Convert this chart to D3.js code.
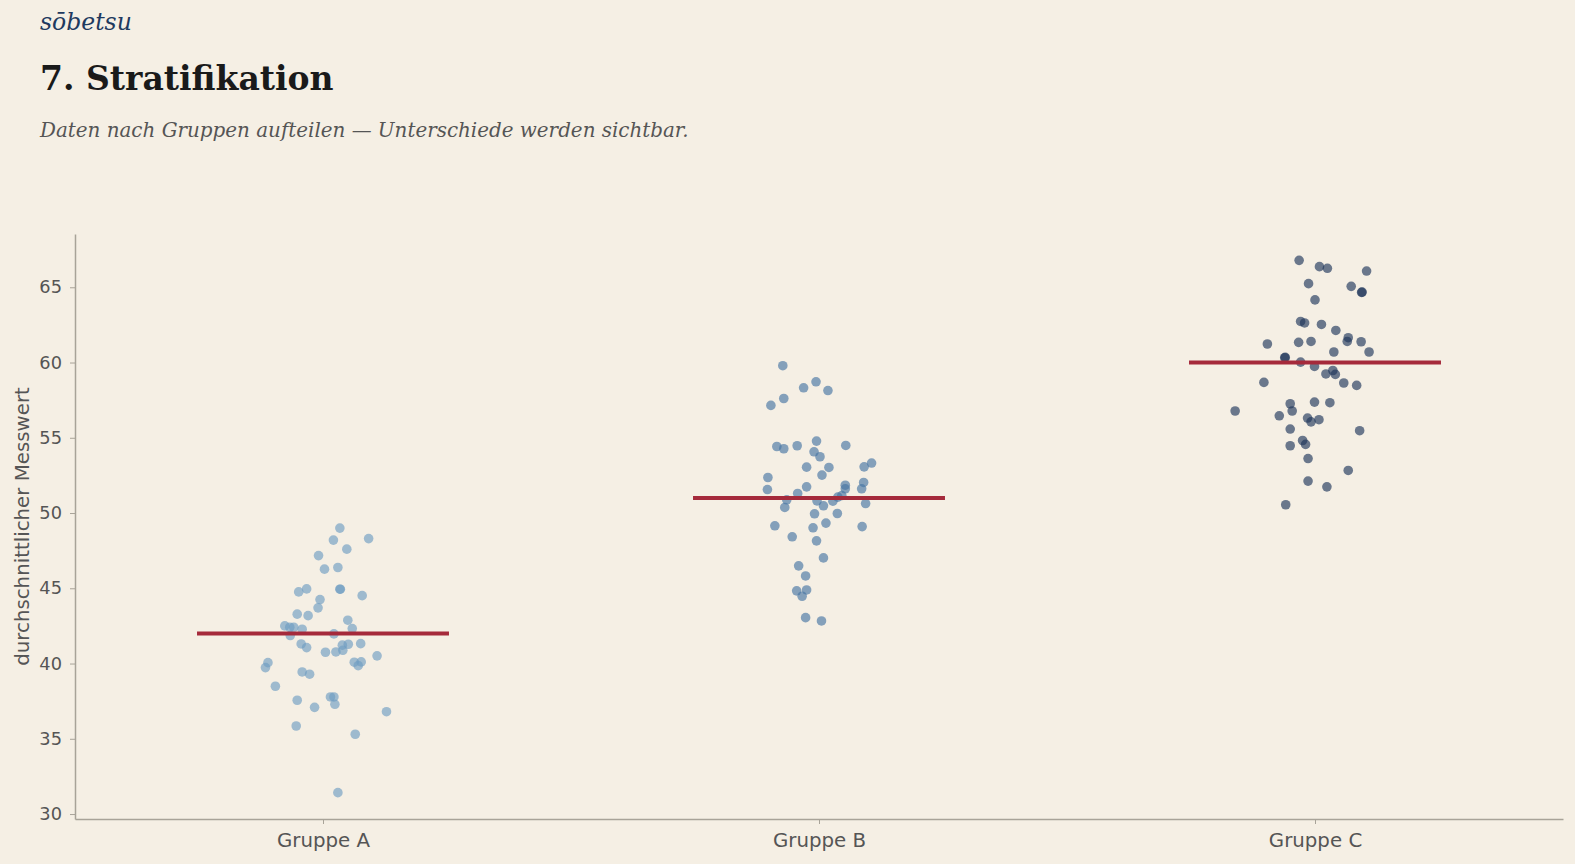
<!DOCTYPE html>
<meta charset="utf-8">
<style>
  body { margin: 0; background: #f5efe4; }
  svg { display: block; }
</style>
<script src="https://d3js.org/d3.v7.min.js"></script>
<body>
<script>
// groups and their means
var groups = ["Gruppe A", "Gruppe B", "Gruppe C"];
var means = [42, 51, 60];
var yTicks = [30, 35, 40, 45, 50, 55, 60, 65];

var valuesA = [49.0, 48.2, 48.3, 47.6, 47.17, 46.27, 46.38, 44.76, 44.96, 44.94, 44.94, 44.51, 44.25, 43.7, 43.28,
  43.18, 42.88, 42.32, 42.5, 42.41, 42.41, 42.28, 41.86, 41.97, 41.3, 41.06, 41.22, 41.28, 41.32, 40.75,
  40.77, 40.88, 40.51, 40.06, 39.73, 40.09, 40.11, 39.86, 39.44, 39.29, 38.49, 37.78, 37.78, 37.29, 37.56,
  37.09, 36.8, 35.85, 35.3, 31.42];
var jitterA = [0.034, 0.021, 0.092, 0.048, -0.009, 0.003, 0.03, -0.049, -0.033, 0.034, 0.035, 0.079, -0.006, -0.01, -0.052,
  -0.03, 0.05, 0.059, -0.077, -0.067, -0.059, -0.042, -0.066, 0.022, -0.044, -0.033, 0.039, 0.051, 0.076, 0.005,
  0.026, 0.04, 0.109, -0.111, -0.116, 0.063, 0.077, 0.071, -0.042, -0.027, -0.096, 0.015, 0.022, 0.024, -0.052,
  -0.017, 0.128, -0.054, 0.065, 0.03];

var valuesB = [59.79, 58.72, 58.32, 58.14, 57.61, 57.15, 54.78, 54.42, 54.27, 54.47, 54.49, 54.07, 53.74, 53.07, 53.32,
  53.05, 53.03, 52.52, 52.36, 51.56, 51.74, 51.85, 51.61, 52.03, 51.61, 51.3, 50.88, 50.81, 50.48, 50.79,
  51.06, 51.16, 50.63, 50.37, 49.95, 49.97, 49.15, 49.33, 49.02, 49.1, 48.42, 48.15, 47.02, 46.49, 45.82,
  44.83, 44.89, 44.47, 43.05, 42.83];
var jitterB = [-0.073, -0.006, -0.031, 0.018, -0.071, -0.097, -0.005, -0.085, -0.071, -0.044, 0.054, -0.01, 0.002, 0.091, 0.106,
  -0.025, 0.02, 0.006, -0.103, -0.104, -0.025, 0.053, 0.053, 0.09, 0.086, -0.043, -0.065, -0.004, 0.009, 0.028,
  0.038, 0.046, 0.094, -0.069, -0.009, 0.037, -0.089, 0.014, -0.012, 0.087, -0.054, -0.005, 0.009, -0.041, -0.027,
  -0.045, -0.025, -0.034, -0.027, 0.005];

var valuesC = [66.79, 66.37, 66.26, 66.08, 65.24, 65.06, 64.66, 64.68, 64.16, 62.73, 62.63, 62.53, 62.13, 61.65, 61.4,
  61.38, 61.23, 61.34, 61.4, 60.7, 60.7, 60.34, 60.32, 60.03, 59.74, 59.47, 59.24, 59.21, 58.64, 58.48,
  58.68, 57.26, 57.37, 57.33, 56.78, 56.46, 56.78, 56.31, 56.06, 56.2, 55.58, 55.47, 54.82, 54.56, 54.47,
  53.62, 52.83, 52.12, 51.74, 50.55];
var jitterC = [-0.032, 0.009, 0.025, 0.104, -0.013, 0.073, 0.094, 0.095, 0, -0.029, -0.021, 0.013, 0.042, 0.067, 0.065,
  0.093, -0.096, -0.033, -0.008, 0.038, 0.109, -0.06, -0.061, -0.029, -0.001, 0.036, 0.022, 0.041, 0.058, 0.084,
  -0.103, -0.05, -0.001, 0.03, -0.161, -0.072, -0.046, -0.015, -0.008, 0.008, -0.05, 0.09, -0.025, -0.019, -0.05,
  -0.014, 0.067, -0.014, 0.024, -0.059];

var colors = ["#6f9cc2", "#4674a3", "#1f355a"];

var W = 1575, H = 864;
var m = { left: 75, right: 12, top: 234, bottom: 45 };

var svg = d3.select("body").append("svg")
  .attr("width", W)
  .attr("height", H)
  .style("background", "#f5efe4");

// header
svg.append("text").text("sōbetsu")
  .attr("x", 40).attr("y", 30)
  .style("font-family", "DejaVu Serif").style("font-style", "italic")
  .style("font-size", "23.5px").style("fill", "#1f3a5f");
svg.append("text").text("7. Stratifikation")
  .attr("x", 40).attr("y", 90)
  .style("font-family", "DejaVu Serif").style("font-weight", "bold")
  .style("font-size", "33px").style("fill", "#1a1a1a");
svg.append("text").text("Daten nach Gruppen aufteilen — Unterschiede werden sichtbar.")
  .attr("x", 40).attr("y", 137)
  .style("font-family", "DejaVu Serif").style("font-style", "italic")
  .style("font-size", "19.9px").style("fill", "#555");

var x = d3.scaleLinear().domain([-0.5, 2.5]).range([m.left, W - m.right]);
var y = d3.scaleLinear().domain([29.67, 68.54]).range([H - m.bottom, m.top]);

var axisColor = "#a8a398";
var textColor = "#555";

var yAxis = svg.append("g")
  .attr("transform", "translate(" + m.left + ",0)")
  .call(d3.axisLeft(y).tickValues(yTicks).tickSize(5).tickPadding(8).tickSizeOuter(0));
var xAxis = svg.append("g")
  .attr("transform", "translate(0," + (H - m.bottom) + ")")
  .call(d3.axisBottom(x).tickValues([0, 1, 2]).tickFormat(function(d) { return groups[d]; })
    .tickSize(5).tickPadding(9).tickSizeOuter(0));

[xAxis, yAxis].forEach(function(g) {
  g.select(".domain").style("stroke", axisColor).style("stroke-width", 1.5);
  g.selectAll(".tick line").style("stroke", axisColor).style("stroke-width", 1);
  g.selectAll(".tick text").style("font-family", "DejaVu Sans").style("font-size", "17.8px").style("fill", textColor);
});
xAxis.selectAll(".tick text").style("font-size", "19.8px");

svg.append("text").text("durchschnittlicher Messwert")
  .attr("transform", "translate(29," + ((m.top + H - m.bottom) / 2) + ") rotate(-90)")
  .attr("text-anchor", "middle")
  .style("font-family", "DejaVu Sans").style("font-size", "19.8px").style("fill", textColor);

// points
var pts = [];
[[valuesA, jitterA], [valuesB, jitterB], [valuesC, jitterC]].forEach(function(pair, gi) {
  pair[0].forEach(function(v, i) { pts.push({ g: gi, v: v, j: pair[1][i] }); });
});

svg.append("g").selectAll("circle")
  .data(pts)
  .enter().append("circle")
    .attr("cx", function(d) { return x(d.g + d.j); })
    .attr("cy", function(d) { return y(d.v); })
    .attr("r", 4.8)
    .style("fill", function(d) { return colors[d.g]; })
    .style("fill-opacity", 0.65);

// mean lines
svg.append("g").selectAll("line")
  .data(means)
  .enter().append("line")
    .attr("x1", function(d, i) { return x(i - 0.254); })
    .attr("x2", function(d, i) { return x(i + 0.254); })
    .attr("y1", function(d) { return y(d); })
    .attr("y2", function(d) { return y(d); })
    .style("stroke", "#a52a3b")
    .style("stroke-width", 4);
</script>
</body>
